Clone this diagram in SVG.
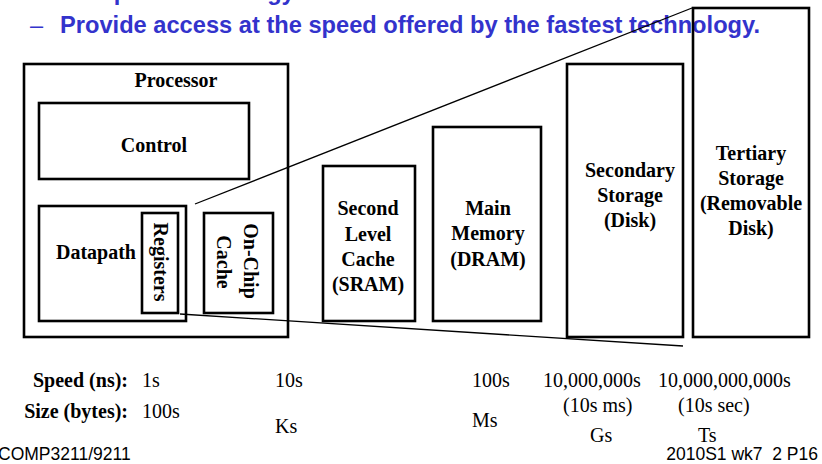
<svg xmlns="http://www.w3.org/2000/svg" width="822" height="464" viewBox="0 0 822 464">
<style>
.box{fill:none;stroke:#000;stroke-width:2.6}
.conn{fill:none;stroke:#000;stroke-width:1.3}
.lbl{font-family:"Liberation Serif","Times New Roman",serif;font-weight:bold;font-size:20px;fill:#000;text-anchor:middle}
.val{font-family:"Liberation Serif","Times New Roman",serif;font-size:20px;fill:#000}
.hdr{font-family:"Liberation Serif","Times New Roman",serif;font-weight:bold;font-size:20px;fill:#000;text-anchor:end}
.blue{font-family:"Liberation Sans",Arial,sans-serif;font-weight:bold;font-size:23.6px;fill:#3333cc}
.dash{font-family:"Liberation Sans",Arial,sans-serif;font-size:23.6px;fill:#3333cc}
.foot{font-family:"Liberation Sans",Arial,sans-serif;font-size:17.5px;fill:#000;white-space:pre}
</style>
<rect width="822" height="464" fill="#fff"/>
<g id="title">
<text class="blue" x="60" y="-0.5">cheapest technology.</text>
<text class="dash" x="30" y="33">–</text>
<text class="blue" x="60" y="33" textLength="700" lengthAdjust="spacingAndGlyphs">Provide access at the speed offered by the fastest technology.</text>
</g>
<g id="processor">
<rect class="box" x="24" y="64" width="264" height="273"/>
<text class="lbl" x="176" y="87">Processor</text>
</g>
<g id="control">
<rect class="box" x="39" y="103" width="210" height="76"/>
<text class="lbl" x="154" y="152">Control</text>
</g>
<g id="datapath">
<rect class="box" x="39" y="206" width="147" height="115"/>
<text class="lbl" x="96" y="259">Datapath</text>
</g>
<g id="registers">
<rect class="box" x="142" y="213" width="36" height="100"/>
<text class="lbl" transform="translate(154,262) rotate(90)">Registers</text>
</g>
<g id="onchip">
<rect class="box" x="204" y="213" width="69" height="100"/>
<text class="lbl" transform="translate(244,261) rotate(90)">On-Chip</text>
<text class="lbl" transform="translate(217,262) rotate(90)">Cache</text>
</g>
<g id="l2cache">
<rect class="box" x="323" y="166" width="92" height="155"/>
<text class="lbl" x="368" y="215">Second</text>
<text class="lbl" x="368" y="241">Level</text>
<text class="lbl" x="368" y="266">Cache</text>
<text class="lbl" x="368" y="291">(SRAM)</text>
</g>
<g id="mainmem">
<rect class="box" x="433" y="127" width="108" height="194"/>
<text class="lbl" x="488" y="215">Main</text>
<text class="lbl" x="488" y="240">Memory</text>
<text class="lbl" x="488" y="266">(DRAM)</text>
</g>
<g id="secondary">
<rect class="box" x="567" y="64" width="116" height="273"/>
<text class="lbl" x="630" y="177">Secondary</text>
<text class="lbl" x="630" y="202">Storage</text>
<text class="lbl" x="630" y="227">(Disk)</text>
</g>
<g id="tertiary">
<rect class="box" x="693" y="8" width="116" height="329"/>
<text class="lbl" x="751" y="160">Tertiary</text>
<text class="lbl" x="751" y="185">Storage</text>
<text class="lbl" x="751" y="210">(Removable</text>
<text class="lbl" x="751" y="235">Disk)</text>
</g>
<g id="connectors">
<line class="conn" x1="195" y1="204" x2="692" y2="8"/>
<line class="conn" x1="180" y1="314" x2="683" y2="346"/>
</g>
<g id="table">
<text class="hdr" x="128" y="387">Speed (ns):</text>
<text class="hdr" x="128" y="418">Size (bytes):</text>
<text class="val" x="142" y="387">1s</text>
<text class="val" x="142" y="418">100s</text>
<text class="val" x="275" y="387">10s</text>
<text class="val" x="275" y="433">Ks</text>
<text class="val" x="472" y="387">100s</text>
<text class="val" x="472" y="427">Ms</text>
<text class="val" x="543" y="387">10,000,000s</text>
<text class="val" x="563" y="412">(10s ms)</text>
<text class="val" x="590" y="442">Gs</text>
<text class="val" x="658" y="387">10,000,000,000s</text>
<text class="val" x="678" y="412">(10s sec)</text>
<text class="val" x="698" y="442">Ts</text>
</g>
<g id="footer">
<text class="foot" x="-2" y="460">COMP3211/9211</text>
<text class="foot" x="818" y="460" text-anchor="end">2010S1 wk7  2 P16</text>
</g>
</svg>
